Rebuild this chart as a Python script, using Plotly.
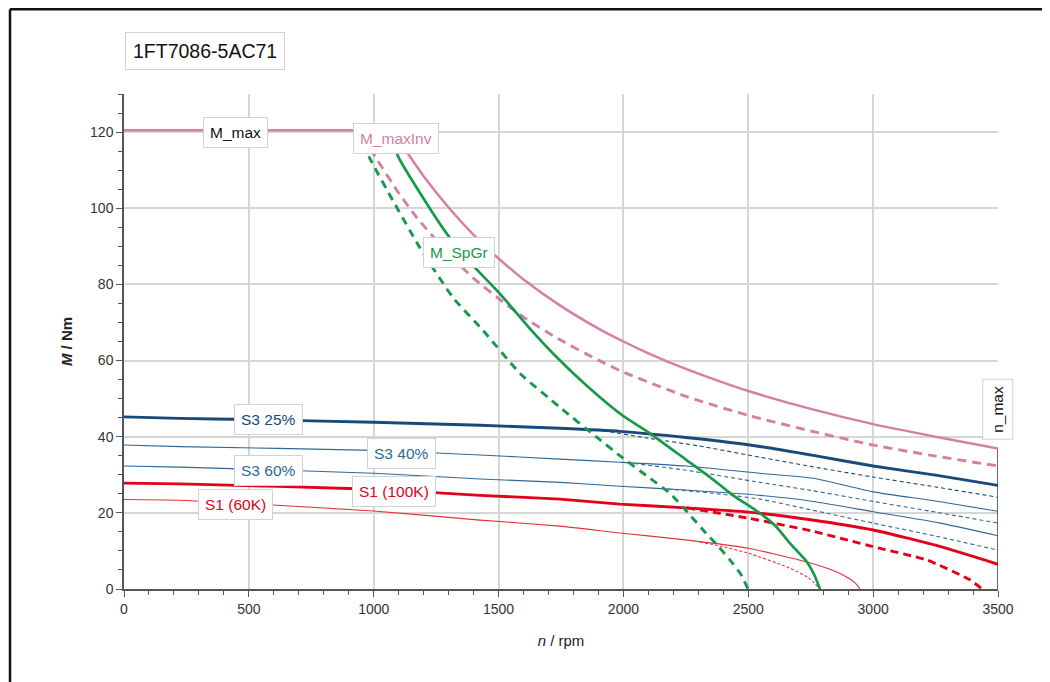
import plotly.graph_objects as go

# ---------------- data ----------------
n_mmax = [0, 1000, 1050, 1080, 1145, 1200, 1300, 1400, 1500, 1600, 1750, 1900, 2000, 2100, 2250,
          2400, 2500, 2750, 3000, 3250, 3500]
m_mmax = [120.5, 120.5, 120.3, 119.4, 113.6, 108.4, 100.2, 93.0, 86.8, 81.3, 74.3, 68.4, 65.0, 61.9, 57.8,
          54.2, 52.0, 47.3, 43.3, 40.0, 36.9]

n_mmaxinv_d = [955, 1013, 1100, 1173, 1300, 1400, 1506, 1600, 1750, 1900, 1998, 2250, 2500, 2750,
               3000, 3250, 3500]
m_mmaxinv_d = [119.0, 112.8, 104.0, 97.5, 88.0, 81.6, 76.0, 71.4, 65.3, 60.1, 57.0, 50.6, 45.6, 41.5,
               37.8, 34.9, 32.3]

n_spgr = [1065, 1097, 1200, 1293, 1400, 1506, 1620, 1734, 1860, 1998, 2106, 2250, 2350, 2439, 2547,
          2610, 2667, 2735, 2765, 2787]
m_spgr = [120.3, 113.7, 102.5, 93.3, 84.8, 77.5, 68.8, 60.8, 53.0, 45.5, 40.9, 34.0, 29.2, 24.6, 19.9,
          16.5, 12.0, 7.1, 3.6, 0.0]

n_spgr_d = [930, 993, 1077, 1185, 1318, 1438, 1586, 1746, 1894, 2000, 2106, 2187, 2260, 2319, 2380,
            2427, 2470, 2499]
m_spgr_d = [120.3, 112.0, 102.0, 89.6, 76.5, 67.9, 56.6, 47.7, 39.8, 34.3, 29.1, 25.1, 19.9, 15.5, 11.2,
            7.6, 3.9, 0.0]

n_s3_25 = [0, 224, 500, 1000, 1426, 1746, 1986, 2250, 2500, 2760, 3000, 3250, 3500]
m_s3_25 = [45.2, 44.8, 44.5, 43.8, 43.0, 42.2, 41.4, 39.8, 37.9, 35.1, 32.3, 29.9, 27.2]
n_s3_25d = [1918, 2100, 2300, 2547, 2750, 3000, 3250, 3500]
m_s3_25d = [41.6, 39.6, 37.6, 34.6, 32.2, 29.4, 26.8, 24.1]

n_s3_40 = [0, 224, 1000, 1426, 1746, 1986, 2250, 2547, 2760, 3000, 3250, 3500]
m_s3_40 = [37.8, 37.4, 36.4, 35.2, 34.1, 33.3, 32.3, 30.4, 29.1, 25.5, 23.1, 20.4]
n_s3_40d = [2015, 2250, 2547, 2750, 3000, 3250, 3500]
m_s3_40d = [33.2, 31.2, 28.0, 25.9, 23.0, 20.2, 17.3]

n_s3_60 = [0, 224, 1000, 1426, 1746, 1986, 2250, 2547, 2760, 3000, 3268, 3500]
m_s3_60 = [32.3, 32.0, 30.4, 28.9, 28.0, 27.0, 26.0, 24.6, 23.0, 20.3, 17.3, 14.0]
n_s3_60d = [2150, 2350, 2547, 2750, 3000, 3250, 3500]
m_s3_60d = [26.4, 25.2, 23.6, 20.8, 17.3, 13.9, 10.2]

n_s1_100 = [0, 224, 1000, 1426, 1746, 1986, 2250, 2500, 2750, 3000, 3250, 3500]
m_s1_100 = [27.8, 27.6, 26.2, 24.6, 23.6, 22.3, 21.3, 20.2, 18.2, 15.5, 11.5, 6.5]
n_s1_100d = [2255, 2500, 2750, 3000, 3216, 3388, 3436]
m_s1_100d = [21.3, 18.6, 15.3, 11.1, 7.6, 2.4, 0.0]

n_s1_60 = [0, 224, 1000, 1426, 1746, 1986, 2250, 2500, 2735, 2850, 2895, 2930, 2947]
m_s1_60 = [23.5, 23.3, 20.5, 18.1, 16.5, 14.7, 12.9, 10.7, 7.1, 4.6, 3.1, 1.5, 0.0]
n_s1_60d = [2307, 2387, 2500, 2655, 2740, 2787]
m_s1_60d = [12.3, 11.3, 9.4, 5.8, 3.0, 0.0]

n_nmax = [3500, 3500]
m_nmax = [0, 36.9]

x_ticks = [0, 500, 1000, 1500, 2000, 2500, 3000, 3500]
y_ticks = [0, 20, 40, 60, 80, 100, 120]

# label texts and anchor points (rpm, Nm)
labels = ["M_max", "M_maxInv", "M_SpGr", "S3 25%", "S3 40%", "S3 60%", "S1 (100K)", "S1 (60K)"]
label_n = [445, 1089, 1342, 577, 1111, 577, 1083, 445]
label_m = [120.0, 118.2, 88.3, 44.4, 35.5, 31.2, 25.5, 22.1]

# ---------------- styles ----------------
PINK = "#d47fa6"
GREEN = "#16994a"
NAVY = "#17497a"
BLUE = "#2f6898"
RED = "#e3001b"
RED2 = "#e2323d"
label_colors = ["#111111", PINK, GREEN, NAVY, BLUE, BLUE, RED, RED]

FONT = "Liberation Sans, Arial, Helvetica, sans-serif"

fig = go.Figure()


def add(x, y, color, width, dash="solid", shape="spline"):
    fig.add_trace(go.Scatter(
        x=x, y=y, mode="lines", hoverinfo="skip", showlegend=False,
        line=dict(color=color, width=width, dash=dash, shape=shape, smoothing=0.5),
    ))


add(n_nmax, m_nmax, "#444444", 1.6, shape="linear")
add(n_s1_60d, m_s1_60d, RED2, 1.1, "3px,2px")
add(n_s1_60, m_s1_60, RED2, 1.1)
add(n_s1_100d, m_s1_100d, RED, 2.9, "8px,5px")
add(n_s1_100, m_s1_100, RED, 2.9)
add(n_s3_60d, m_s3_60d, BLUE, 1.1, "4px,3px")
add(n_s3_60, m_s3_60, BLUE, 1.1)
add(n_s3_40d, m_s3_40d, BLUE, 1.1, "4px,3px")
add(n_s3_40, m_s3_40, BLUE, 1.1)
add(n_s3_25d, m_s3_25d, NAVY, 1.1, "4px,3px")
add(n_s3_25, m_s3_25, NAVY, 2.9)
add(n_mmaxinv_d, m_mmaxinv_d, PINK, 2.9, "9px,6px")
add(n_mmax, m_mmax, PINK, 2.5)
add(n_spgr_d, m_spgr_d, GREEN, 2.9, "8px,6px")
add(n_spgr, m_spgr, GREEN, 2.7)

for t, xv, yv, c in zip(labels, label_n, label_m, label_colors):
    fig.add_annotation(
        x=xv, y=yv, xref="x", yref="y", text=t, showarrow=False,
        font=dict(family=FONT, size=15.5, color=c),
        bgcolor="white", bordercolor="#d2d2d2", borderwidth=1, borderpad=6,
        xanchor="center", yanchor="middle",
    )

fig.add_annotation(
    x=3498, y=47.2, xref="x", yref="y", text="n_max", showarrow=False, textangle=-90,
    font=dict(family=FONT, size=15.5, color="#111111"),
    bgcolor="white", bordercolor="#d2d2d2", borderwidth=1, borderpad=6,
    xanchor="center", yanchor="middle",
)

# plot-area pixel geometry in the browser window (page has an 8px body margin)
PX_L, PX_R, PX_T, PX_B = 124, 998, 94, 589
PW, PH = PX_R - PX_L, PX_B - PX_T

# title box
fig.add_annotation(
    x=(125 - PX_L) / PW, y=(PX_B - 51) / PH, xref="paper", yref="paper",
    text="1FT7086-5AC71", showarrow=False,
    font=dict(family=FONT, size=19.5, color="#111111"),
    bgcolor="white", bordercolor="#d2d2d2", borderwidth=1, borderpad=7,
    xanchor="left", yanchor="middle",
)

# outer frame (left and top edges visible)
fx = (10 - PX_L) / PW
fy = (PX_B - 9.3) / PH
fig.add_shape(type="line", xref="paper", yref="paper",
              x0=fx, x1=fx, y0=fy, y1=-0.4, line=dict(color="#111111", width=2.5))
fig.add_shape(type="line", xref="paper", yref="paper",
              x0=fx, x1=1.3, y0=fy, y1=fy, line=dict(color="#111111", width=2.5))

fig.update_layout(
    width=1042, height=674,
    margin=dict(l=PX_L - 8, r=1042 - (PX_R - 8), t=PX_T - 8, b=674 - (PX_B - 8)),
    paper_bgcolor="white", plot_bgcolor="white",
    font=dict(family=FONT, size=14, color="#333333"),
    showlegend=False,
)

fig.update_xaxes(
    range=[0, 3500], tickvals=x_ticks, ticktext=[str(v) for v in x_ticks],
    showgrid=True, gridcolor="#d6d6d6", gridwidth=2, zeroline=False,
    showline=True, linecolor="#555555", linewidth=1.5,
    ticks="outside", ticklen=6, tickcolor="#555555",
    minor=dict(dtick=100, ticks="outside", ticklen=4, tickcolor="#555555", showgrid=False),
    tickfont=dict(family=FONT, size=14, color="#333333"),
    title=dict(text="<i>n</i> / rpm", font=dict(family=FONT, size=15, color="#222222"), standoff=20),
)
fig.update_yaxes(
    range=[0, 130], tickvals=y_ticks, ticktext=[str(v) for v in y_ticks],
    showgrid=True, gridcolor="#d6d6d6", gridwidth=2, zeroline=False,
    showline=True, linecolor="#555555", linewidth=1.5,
    ticks="outside", ticklen=6, tickcolor="#555555",
    minor=dict(dtick=5, ticks="outside", ticklen=4, tickcolor="#555555", showgrid=False),
    tickfont=dict(family=FONT, size=14, color="#333333"),
    title=dict(text="<b><i>M</i> / Nm</b>", font=dict(family=FONT, size=15, color="#222222"), standoff=14),
)

fig.write_html("out.html")
